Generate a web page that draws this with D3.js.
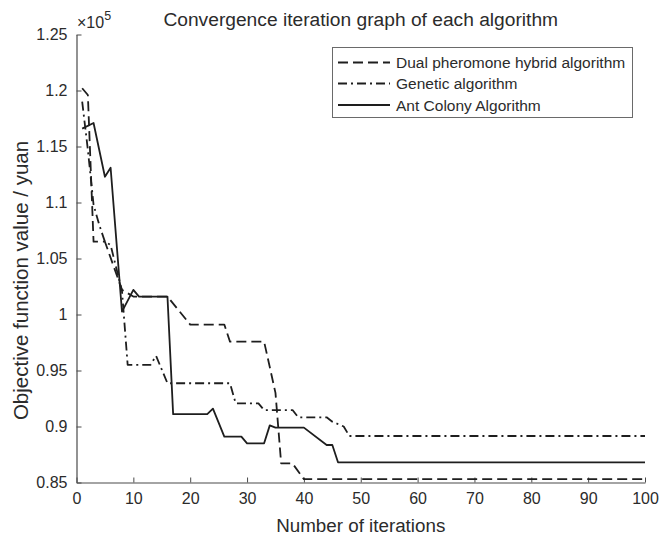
<!DOCTYPE html>
<html>
<head>
<meta charset="utf-8">
<script src="https://cdn.jsdelivr.net/npm/d3@7"></script>
<style>
  html, body { margin: 0; padding: 0; background: #fff; }
  svg { display: block; font-family: "Liberation Sans", Arial, sans-serif; }
</style>
</head>
<body>
<svg id="chart" width="662" height="537"></svg>
<script>
// ---- data (values in units of 1e5 yuan) ----
const seriesNames = ["Dual pheromone hybrid algorithm", "Genetic algorithm", "Ant Colony Algorithm"];

const dualIter = [1, 2, 3, 5, 8, 10, 16, 20, 26, 27, 33, 34, 35, 36, 38, 40, 100];
const dualVal  = [1.202, 1.196, 1.065, 1.065, 1.022, 1.016, 1.016, 0.991, 0.991, 0.9757, 0.9757, 0.953, 0.930, 0.867, 0.867, 0.853, 0.853];

const gaIter = [1, 2, 3, 4, 5, 6, 8, 9, 13, 14, 16, 27, 28, 32, 33, 38, 39, 44, 45, 47, 48, 100];
const gaVal  = [1.19, 1.147, 1.098, 1.08, 1.065, 1.062, 1.021, 0.955, 0.955, 0.963, 0.9386, 0.9386, 0.9207, 0.9207, 0.9147, 0.9147, 0.9082, 0.9082, 0.9043, 0.900, 0.8915, 0.8915];

const acoIter = [1, 3, 5, 6, 8, 10, 11, 16, 17, 23, 24, 26, 29, 30, 33, 34, 35, 40, 44, 45, 46, 100];
const acoVal  = [1.166, 1.171, 1.123, 1.131, 1.0025, 1.022, 1.016, 1.016, 0.911, 0.911, 0.916, 0.891, 0.891, 0.885, 0.885, 0.901, 0.899, 0.899, 0.8835, 0.8835, 0.868, 0.868];

const xTicks = [0, 10, 20, 30, 40, 50, 60, 70, 80, 90, 100];
const yTicks = [0.85, 0.9, 0.95, 1, 1.05, 1.1, 1.15, 1.2, 1.25];

// ---- layout ----
const svg = d3.select("#chart");
const x = d3.scaleLinear().domain([0, 100]).range([76.5, 645]);
const y = d3.scaleLinear().domain([0.85, 1.25]).range([482.5, 34.5]);
const axisColor = "#4a4a4a";
const textColor = "#2b2b2b";
const lineColor = "#1e1e1e";

// x axis
const gx = svg.append("g").attr("transform", `translate(0,${y(0.85)})`)
  .call(d3.axisBottom(x).tickValues(xTicks).tickFormat(d3.format("d")).tickSizeInner(-5).tickSizeOuter(0).tickPadding(10));
gx.select(".domain").attr("stroke", axisColor).attr("stroke-width", 1.2);
gx.selectAll(".tick line").attr("stroke", axisColor).attr("stroke-width", 1);
gx.selectAll(".tick text").attr("fill", textColor).attr("font-size", 16)
  .attr("font-family", "Liberation Sans, Arial, sans-serif");

// y axis
const gy = svg.append("g").attr("transform", `translate(${x(0)},0)`)
  .call(d3.axisLeft(y).tickValues(yTicks).tickFormat(d => d3.format("")(+d.toFixed(2))).tickSizeInner(-5).tickSizeOuter(0).tickPadding(9));
gy.select(".domain").attr("stroke", axisColor).attr("stroke-width", 1.2);
gy.selectAll(".tick line").attr("stroke", axisColor).attr("stroke-width", 1);
gy.selectAll(".tick text").attr("fill", textColor).attr("font-size", 16)
  .attr("font-family", "Liberation Sans, Arial, sans-serif");

// exponent label
const ex = svg.append("text").attr("x", 77).attr("y", 28).attr("fill", textColor).attr("font-size", 16);
ex.append("tspan").text("\u00d710");
ex.append("tspan").attr("dy", -8).attr("font-size", 12.5).text("5");

// title
svg.append("text").attr("x", (x(0) + x(100)) / 2).attr("y", 26).attr("text-anchor", "middle")
  .attr("fill", textColor).attr("font-size", 19.2).text("Convergence iteration graph of each algorithm");

// x label
svg.append("text").attr("x", (x(0) + x(100)) / 2).attr("y", 532).attr("text-anchor", "middle")
  .attr("fill", textColor).attr("font-size", 18.8).text("Number of iterations");

// y label
svg.append("text").attr("transform", `translate(28,${(y(0.85) + y(1.25)) / 2 + 22}) rotate(-90)`)
  .attr("text-anchor", "middle").attr("fill", textColor).attr("font-size", 20.5)
  .text("Objective function value / yuan");

// lines
const line = d3.line().x(d => x(d[0])).y(d => y(d[1]));
const styles = [
  { iter: dualIter, val: dualVal, dash: "10,5" },
  { iter: gaIter, val: gaVal, dash: "9,4,2,4" },
  { iter: acoIter, val: acoVal, dash: null }
];
styles.forEach(s => {
  const pts = s.iter.map((it, i) => [it, s.val[i]]);
  svg.append("path").datum(pts).attr("d", line)
    .attr("fill", "none").attr("stroke", lineColor).attr("stroke-width", 1.8)
    .attr("stroke-linejoin", "round")
    .attr("stroke-dasharray", s.dash);
});

// legend
const lg = svg.append("g");
lg.append("rect").attr("x", 332.5).attr("y", 47.5).attr("width", 300).attr("height", 70)
  .attr("fill", "#fff").attr("stroke", "#6a6a6a").attr("stroke-width", 1);
const rowsY = [62.5, 83.5, 105];
seriesNames.forEach((name, i) => {
  lg.append("line").attr("x1", 338).attr("x2", 390).attr("y1", rowsY[i]).attr("y2", rowsY[i])
    .attr("stroke", lineColor).attr("stroke-width", 1.8).attr("stroke-dasharray", styles[i].dash);
  lg.append("text").attr("x", 396).attr("y", rowsY[i] + 5.5).attr("fill", textColor)
    .attr("font-size", 15.5).text(name);
});
</script>
</body>
</html>
